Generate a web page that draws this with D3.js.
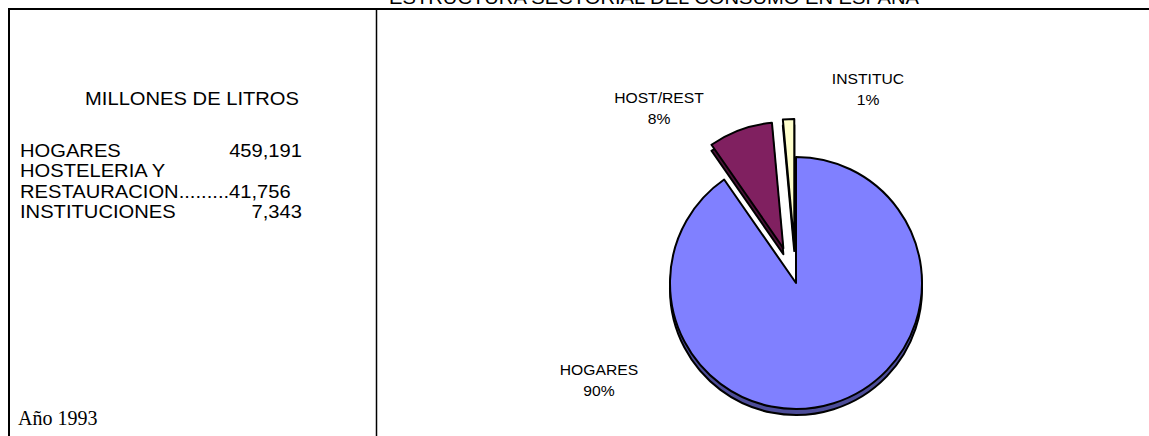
<!DOCTYPE html>
<html>
<head>
<meta charset="utf-8">
<script src="https://cdn.jsdelivr.net/npm/d3@7"></script>
<style>
  html, body { margin: 0; padding: 0; background: #ffffff; }
  svg { display: block; }
</style>
</head>
<body>
<script>
// Consumption by sector, millions of litres (1993)
const sectors      = ["HOGARES", "HOST/REST", "INSTITUC"];
const litres       = [459191, 41756, 7343];
const pctLabels    = ["90%", "8%", "1%"];
const explodeDist  = [0, 37, 38];
const topColors    = ["#8080ff", "#802060", "#ffffcc"];
const sideColors   = ["#4d4d99", "#4a1238", "#99997a"];

// Left-hand table text
const tableTitle   = "MILLONES DE LITROS";
const tableNames   = ["HOGARES", "HOSTELERIA Y", "RESTAURACION.........41,756", "INSTITUCIONES"];
const tableValues  = ["459,191", "", "", "7,343"];
const chartTitle   = "ESTRUCTURA SECTORIAL DEL CONSUMO EN ESPAÑA";
const yearNote     = "Año 1993";

const W = 1149, H = 436;
const svg = d3.select("body").append("svg").attr("width", W).attr("height", H);

const sx = 1.12; // horizontal stretch of the lettering
function stretchedText(sel, x, y, str, anchor, size, family) {
  return sel.append("text")
    .attr("transform", `translate(${x},${y}) scale(${sx},1)`)
    .attr("text-anchor", anchor)
    .attr("font-family", family || "Liberation Sans, Arial, sans-serif")
    .attr("font-size", size)
    .attr("fill", "#000")
    .text(str);
}

// Title (partly above the page edge)
stretchedText(svg, 654, 4, chartTitle, "middle", 18);

// Frame lines
svg.append("line").attr("x1", 8).attr("x2", W).attr("y1", 9).attr("y2", 9)
  .attr("stroke", "#000").attr("stroke-width", 2);
svg.append("line").attr("x1", 9).attr("x2", 9).attr("y1", 8).attr("y2", H)
  .attr("stroke", "#000").attr("stroke-width", 2);
svg.append("line").attr("x1", 376.5).attr("x2", 376.5).attr("y1", 9).attr("y2", H)
  .attr("stroke", "#000").attr("stroke-width", 1.5);

// Left table
const left = svg.append("g");
stretchedText(left, 192, 105, tableTitle, "middle", 18);
tableNames.forEach((t, i) => {
  const y = 156.5 + i * 20.6;
  stretchedText(left, 20, y, t, "start", 18);
  if (tableValues[i]) stretchedText(left, 302, y, tableValues[i], "end", 18);
});
svg.append("text").attr("x", 18).attr("y", 425)
  .attr("font-family", "Liberation Serif, Times New Roman, serif")
  .attr("font-size", 20).attr("fill", "#000").text(yearNote);

// Pie
const cx = 796, cy = 283, R = 126, depth = 6;
const pie = d3.pie().sort(null).startAngle(0).endAngle(2 * Math.PI);
const arcs = pie(litres);
const arc = d3.arc().innerRadius(0).outerRadius(R);

function offset(d, i) {
  const m = (d.startAngle + d.endAngle) / 2;
  return [Math.sin(m) * explodeDist[i], -Math.cos(m) * explodeDist[i]];
}

const pieG = svg.append("g").attr("transform", `translate(${cx},${cy})`);

// side walls (shifted copies underneath)
pieG.selectAll("path.side").data(arcs).join("path")
  .attr("class", "side")
  .attr("transform", (d, i) => { const o = offset(d, i); return `translate(${o[0]},${o[1] + depth})`; })
  .attr("d", arc)
  .attr("fill", (d, i) => sideColors[i])
  .attr("stroke", "#000").attr("stroke-width", 2).attr("stroke-linejoin", "round");

// top faces
pieG.selectAll("path.top").data(arcs).join("path")
  .attr("class", "top")
  .attr("transform", (d, i) => { const o = offset(d, i); return `translate(${o[0]},${o[1]})`; })
  .attr("d", arc)
  .attr("fill", (d, i) => topColors[i])
  .attr("stroke", "#000").attr("stroke-width", 2).attr("stroke-linejoin", "round");

// Slice labels
const labelPos = [[599, 375], [659, 103], [868, 84]];
sectors.forEach((s, i) => {
  stretchedText(svg, labelPos[i][0], labelPos[i][1], s, "middle", 14);
  stretchedText(svg, labelPos[i][0], labelPos[i][1] + 21, pctLabels[i], "middle", 14);
});
</script>
</body>
</html>
